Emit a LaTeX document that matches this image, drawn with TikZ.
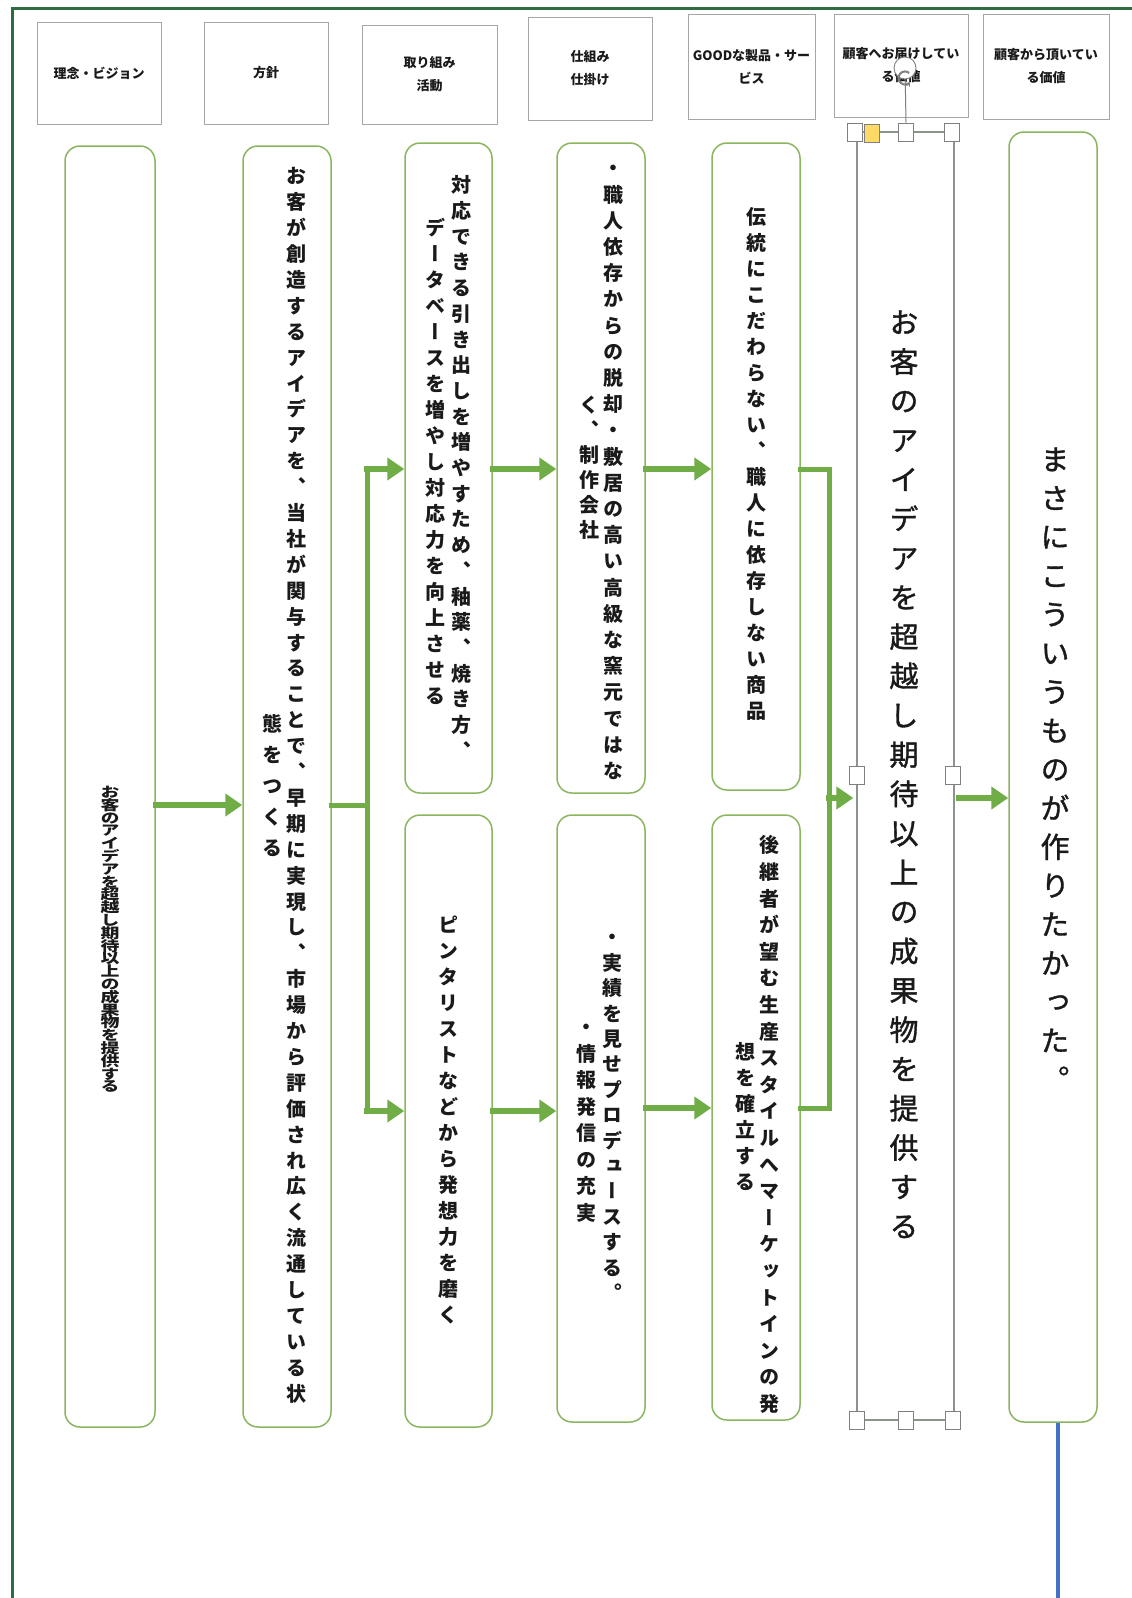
\documentclass[tikz,border=0pt]{standalone}
\usepackage{fontspec}
\newfontfamily\jp{Noto Sans CJK JP}
\newfontfamily\vjp[Script=CJK,RawFeature=+vert]{Noto Sans CJK JP}
\newfontfamily\vjpm[Script=CJK,RawFeature=+vert,FakeBold=1.2]{Noto Sans CJK JP}
\usetikzlibrary{arrows.meta,calc}
\definecolor{arrowgreen}{HTML}{70AD47}
\definecolor{boxgreen}{HTML}{8AB660}
\definecolor{framegreen}{HTML}{2E6B40}
\definecolor{hdrgray}{HTML}{A6A6A6}
\definecolor{selgray}{HTML}{8C948C}
\definecolor{handlegray}{HTML}{7F7F7F}
\definecolor{handleyellow}{HTML}{FFD966}
\definecolor{blueline}{HTML}{4472C4}
\definecolor{txt}{HTML}{1A1A1A}
\ExplSyntaxOn
\NewDocumentCommand\VT{mm}{%
  \vbox{\baselineskip=#1\lineskip=0pt\lineskiplimit=-\maxdimen
    \tl_map_inline:nn{#2}{\hbox_to_wd:nn{1.2em}{\hss\vrule~height~.88em~depth~.12em~width~0pt\relax ##1\hss}}}}
\ExplSyntaxOff
% name, x, centre of first character, font size, spacing, font, text
\newcommand\vcolumn[7]{\node[vt,font=#6\fontsize{#4}{#4}\selectfont,anchor=north] (#1) at (#2,{#3-#4/2}) {\VT{#5pt}{#7}};}
\begin{document}
\begin{tikzpicture}[x=1pt,y=-1pt,
  hdr/.style={draw=hdrgray, line width=0.9pt, fill=white, inner sep=0pt, align=center, text=txt, font=\jp\bfseries\fontsize{13}{23}\selectfont},
  mbox/.style={draw=boxgreen, line width=1.5pt, rounded corners=15pt, fill=white, inner sep=0pt},
  selbox/.style={draw=selgray, line width=1.3pt, fill=white, inner sep=0pt},
  garrow/.style={draw=arrowgreen, line width=6.5pt, line cap=rect, -{Triangle[width=22pt,length=17pt]}},
  gline/.style={draw=arrowgreen, line width=5pt, line cap=rect, line join=miter},
  handle/.style={draw=handlegray, line width=0.9pt, fill=white, minimum width=15pt, minimum height=18pt, inner sep=0pt},
  vt/.style={inner sep=0pt, text=txt},
  frame/.style={draw=framegreen, line width=3pt}
]
\useasboundingbox (0,0) rectangle (1132,1598);
\fill[white] (0,0) rectangle (1132,1598);
\draw[frame] (12,1598) -- (12,8) -- (1132,8);

% header boxes
\node[hdr, minimum width=124pt, minimum height=102pt] (h1) at (99,73) {理念・ビジョン};
\node[hdr, minimum width=124pt, minimum height=102pt] (h2) at (266,73) {方針};
\node[hdr, minimum width=135pt, minimum height=99pt] (h3) at (429.5,74.5) {取り組み\\活動};
\node[hdr, minimum width=124pt, minimum height=103pt] (h4) at (590,68.5) {仕組み\\仕掛け};
\node[hdr, minimum width=127pt, minimum height=105pt] (h5) at (751.5,66.5) {GOODな製品・サー\\ビス};
\node[hdr, minimum width=134pt, minimum height=103pt] (h6) at (901,65.5) {顧客へお届けしてい\\る価値};
\node[hdr, minimum width=126pt, minimum height=105pt] (h7) at (1046,66.5) {顧客から頂いてい\\る価値};

% main boxes
\node[mbox, minimum width=90pt, minimum height=1281pt] (b1) at (110,786.5) {};
\node[mbox, minimum width=88pt, minimum height=1281pt] (b2) at (287,786.5) {};
\node[mbox, minimum width=87pt, minimum height=650pt] (b3t) at (448.5,468) {};
\node[mbox, minimum width=87pt, minimum height=612pt] (b3b) at (448.5,1121) {};
\node[mbox, minimum width=88pt, minimum height=650pt] (b4t) at (601,468) {};
\node[mbox, minimum width=88pt, minimum height=607pt] (b4b) at (601,1118.5) {};
\node[mbox, minimum width=88pt, minimum height=647pt] (b5t) at (756,466.5) {};
\node[mbox, minimum width=88pt, minimum height=605pt] (b5b) at (756,1117.5) {};
\node[selbox, minimum width=97pt, minimum height=1288pt] (b6) at (905.5,776) {};
\node[mbox, minimum width=88pt, minimum height=1290pt] (b7) at (1053,777) {};

% vertical texts
\node[vt,font=\vjp\bfseries\fontsize{14}{14}\selectfont,anchor=north] (t1) at (110,{792-7}) {\scalebox{1.35}[1]{\VT{12.8pt}{お客のアイデアを超越し期待以上の成果物を提供する}}};
\vcolumn{t2a}{296}{176}{20}{25.9}{\vjp\bfseries}{お客が創造するアイデアを、当社が関与することで、早期に実現し、市場から評価され広く流通している状}
\vcolumn{t2b}{272}{724}{20}{31}{\vjp\bfseries}{態をつくる}
\vcolumn{t3a}{461}{185}{20}{25.7}{\vjp\bfseries}{対応できる引き出しを増やすため、釉薬、焼き方、}
\vcolumn{t3b}{435}{228}{20}{26}{\vjp\bfseries}{データベースを増やし対応力を向上させる}
\vcolumn{t3c}{448}{925}{20}{26}{\vjp\bfseries}{ピンタリストなどから発想力を磨く}
\vcolumn{t4a}{613}{168}{20}{26.2}{\vjp\bfseries}{・職人依存からの脱却・敷居の高い高級な窯元ではな}
\vcolumn{t4b}{589}{405}{20}{25}{\vjp\bfseries}{く、制作会社}
\vcolumn{t4c}{612}{937}{20}{25.4}{\vjp\bfseries}{・実績を見せプロデュースする。}
\vcolumn{t4d}{586}{1027}{20}{26.5}{\vjp\bfseries}{・情報発信の充実}
\vcolumn{t5a}{756}{217}{20}{26}{\vjp\bfseries}{伝統にこだわらない、職人に依存しない商品}
\vcolumn{t5b}{769}{845}{20}{26.6}{\vjp\bfseries}{後継者が望む生産スタイルへマーケットインの発}
\vcolumn{t5c}{745}{1052}{20}{26}{\vjp\bfseries}{想を確立する}
\vcolumn{t6}{904}{322}{29}{39.3}{\vjpm}{お客のアイデアを超越し期待以上の成果物を提供する}
\vcolumn{t7}{1055}{459}{29}{38.75}{\vjpm}{まさにこういうものが作りたかった。}

% connector coordinates
\coordinate (yA) at (0,805);
\coordinate (fT) at (367,469);
\coordinate (fB) at (367,1111);
\coordinate (f1) at (367,805);
\coordinate (mT) at (829,469);
\coordinate (mB) at (829,1108);
\coordinate (m) at (829,798);

% arrows
\draw[garrow] (b1.east |- yA) -- (b2.west |- yA);
\draw[gline] (b2.east |- f1) -- (f1);
\draw[gline] (fT) -- (fB);
\draw[garrow] (fT) -- (b3t.west |- fT);
\draw[garrow] (fB) -- (b3b.west |- fB);
\draw[garrow] (b3t.east |- fT) -- (b4t.west |- fT);
\draw[garrow] (b3b.east |- fB) -- (b4b.west |- fB);
\draw[garrow] (b4t.east |- mT) -- (b5t.west |- mT);
\draw[garrow] (b4b.east |- mB) -- (b5b.west |- mB);
\draw[gline] (b5t.east |- mT) -- (mT) -- (mB) -- (b5b.east |- mB);
\draw[garrow] (m) -- ($(b6.west |- m)+(-3,0)$);
\draw[garrow] ($(b6.east |- m)+(5,0)$) -- (b7.west |- m);

% blue line
\coordinate (blueend) at (1058,1598);
\draw[blueline, line width=3.5pt] (b7.south -| blueend) -- (blueend);

% selection handles
\coordinate (rot) at (905,68);
\node[handle] (hTM) at (906,132) {};
\draw[handlegray, line width=1pt] (rot) -- (hTM.north);
\node[handle] (hTL) at (855,132) {};
\node[handle, fill=handleyellow, draw=handlegray] (hTY) at (872,133) {};
\node[handle] (hTR) at (952,132) {};
\node[handle] (hML) at (857,775) {};
\node[handle] (hMR) at (953,775) {};
\node[handle] (hBL) at (857,1420) {};
\node[handle] (hBM) at (906,1420) {};
\node[handle] (hBR) at (953,1420) {};
\node[circle, draw=handlegray, line width=0.9pt, fill=white, minimum size=22pt, inner sep=0pt] (roticon) at (rot) {};
\draw[handlegray, line width=2pt, -{Stealth[length=4pt,width=6pt]}] ($(rot)+(50:6.5)$) arc[start angle=50, end angle=320, radius=6.5pt];
\end{tikzpicture}
\end{document}
